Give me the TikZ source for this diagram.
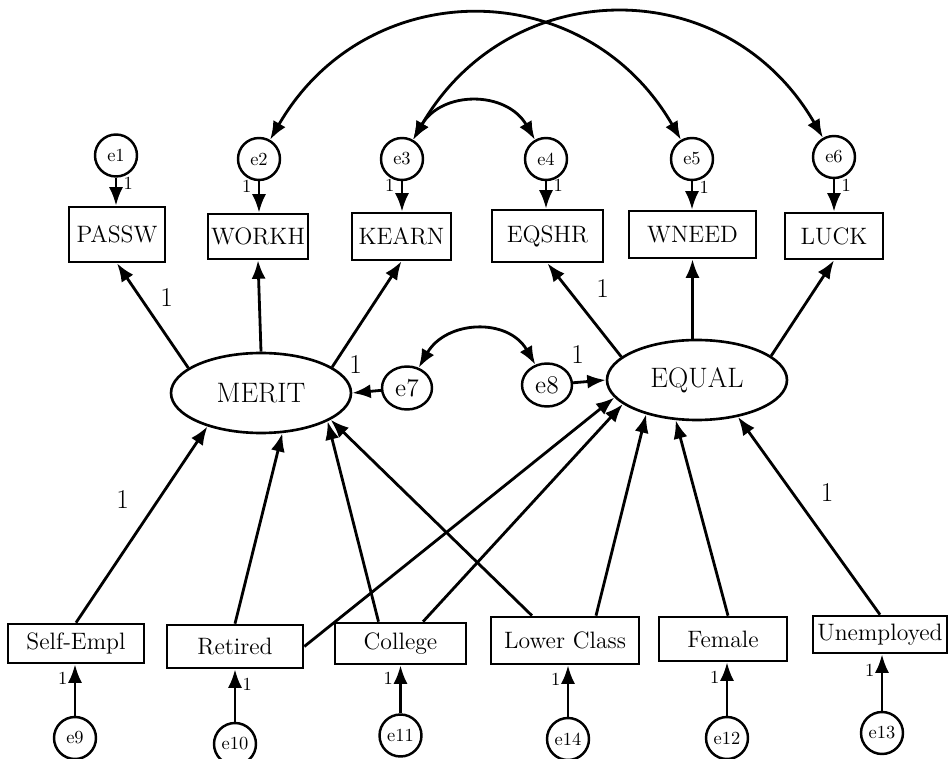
\documentclass[tikz,border=0pt]{standalone}
\usetikzlibrary{arrows.meta,shapes.geometric,calc}
\begin{document}
\begin{tikzpicture}[x=0.02cm, y=-0.02cm]
  \tikzstyle{box}=[draw, line width=1.5pt, inner sep=1.5pt, font=\fontsize{13.5}{16}\selectfont]
  \tikzstyle{latent}=[draw, ellipse, line width=1.5pt, minimum width=3.6cm,
                      minimum height=1.6cm, font=\fontsize{16}{19}\selectfont]
  \tikzstyle{err}=[draw, circle, line width=1.4pt, inner sep=0pt, minimum size=0.84cm,
                   font=\fontsize{10.5}{12}\selectfont]
  \tikzstyle{disturb}=[draw, ellipse, line width=1.4pt, inner sep=0pt, minimum width=1cm,
                       minimum height=0.86cm, font=\fontsize{14.5}{16}\selectfont]
  \tikzstyle{arrow}=[line width=1.6pt, -{Latex[length=10.5pt, width=8pt]}]
  \tikzstyle{covar}=[line width=1.6pt, {Latex[length=10.5pt, width=8pt]}-{Latex[length=10.5pt, width=8pt]}]
  \tikzstyle{one}=[font=\fontsize{15.5}{18}\selectfont, inner sep=2pt]
  \tikzstyle{small}=[font=\fontsize{10.5}{12}\selectfont, inner sep=1.5pt]
  \useasboundingbox (0,0) rectangle (949,759);

  % latent factors and their disturbances
  \node[latent] (merit) at (261, 393) {MERIT};
  \node[latent] (equal) at (697, 380) {EQUAL};
  \node[disturb] (e7) at (407, 388) {e7};
  \node[disturb] (e8) at (547, 385) {e8};

  % indicators
  \node[box, minimum width=1.92cm, minimum height=1.10cm] (passw) at (117, 234.5) {PASSW};
  \node[box, minimum width=2.00cm, minimum height=0.90cm] (workh) at (258, 236.5) {WORKH};
  \node[box, minimum width=1.98cm, minimum height=0.94cm] (kearn) at (401.5, 236.5) {KEARN};
  \node[box, minimum width=2.22cm, minimum height=1.04cm] (eqshr) at (547.5, 236) {EQSHR};
  \node[box, minimum width=2.54cm, minimum height=0.94cm] (wneed) at (692.5, 234.5) {WNEED};
  \node[box, minimum width=1.96cm, minimum height=0.92cm] (luck)  at (834, 236) {LUCK};

  \node[err] (e1) at (116, 155.5) {e1};
  \node[err] (e2) at (259, 159) {e2};
  \node[err] (e3) at (402, 159) {e3};
  \node[err] (e4) at (546, 159) {e4};
  \node[err] (e5) at (692, 159) {e5};
  \node[err] (e6) at (834, 157) {e6};

  % background variables
  \node[box, minimum width=2.72cm, minimum height=0.78cm] (selfempl) at (76, 643.5) {Self-Empl};
  \node[box, minimum width=2.72cm, minimum height=0.86cm] (retired)  at (235, 646.5) {Retired};
  \node[box, minimum width=2.62cm, minimum height=0.82cm] (college)  at (400.5, 643.5) {College};
  \node[box, minimum width=2.96cm, minimum height=0.94cm] (lowclass) at (565, 640.5) {Lower Class};
  \node[box, minimum width=2.56cm, minimum height=0.88cm] (female)   at (723, 639) {Female};
  \node[box, minimum width=2.68cm, minimum height=0.74cm] (unemp)    at (880, 634.5) {Unemployed};

  \node[err] (e9)  at (75, 738) {e9};
  \node[err] (e10) at (235, 744) {e10};
  \node[err] (e11) at (400.5, 735.5) {e11};
  \node[err] (e14) at (568, 739) {e14};
  \node[err] (e12) at (727, 738) {e12};
  \node[err] (e13) at (882, 733) {e13};

  % measurement paths
  \draw[arrow] (merit.161) -- node[one, pos=0.67, right=0.3cm] {1} (passw.south);
  \draw[arrow] (merit.north) -- (workh.south);
  \draw[arrow] (merit.20) -- node[one, pos=0.02, right=0.22cm] {1} (kearn.south);
  \draw[arrow] (equal.163) -- node[one, pos=0.73, right=0.48cm] {1} (eqshr.south);
  \draw[arrow] (wneed.south |- equal.north) -- (wneed.south);
  \draw[arrow] (equal.18) -- (luck.south);

  \draw[arrow] (e1) -- node[small, pos=0.2, right=2pt] {1} (e1 |- passw.north);
  \draw[arrow] (e2) -- node[small, pos=0.15, left=2pt] {1} (e2 |- workh.north);
  \draw[arrow] (e3) -- node[small, pos=0.15, left=2pt] {1} (e3 |- kearn.north);
  \draw[arrow] (e4) -- node[small, pos=0.15, right=2pt] {1} (e4 |- eqshr.north);
  \draw[arrow] (e5) -- node[small, pos=0.2, right=2pt] {1} (e5 |- wneed.north);
  \draw[arrow] (e6) -- node[small, pos=0.2, right=2pt] {1} (e6 |- luck.north);

  % correlated errors
  \draw[covar] (e2) to[out=60, in=120, looseness=1.2] (e5);
  \draw[covar] (e3) to[out=60, in=120, looseness=1.2] (e6);
  \draw[covar] (e3) to[out=60, in=120, looseness=1.2] (e4);
  \draw[covar] (e7) to[out=60, in=120, looseness=1.2] (e8);

  \draw[arrow] (e7) -- (merit.east);
  \draw[arrow] (e8) -- node[one, pos=0.14, above=0.28cm] {1} (equal.west);

  % structural paths
  \draw[arrow] (selfempl.north) -- node[one, pos=0.63, left=0.5cm] {1} (merit.212);
  \draw[arrow] (retired.north) -- (merit.-62);
  \draw[arrow] ($(college.north)+(-22,0)$) -- (merit.-23);
  \draw[arrow] ($(lowclass.north)+(-33,0)$) -- (merit.-21);
  \draw[arrow] (retired.east) -- (equal.192);
  \draw[arrow] ($(college.north)+(22.5,0)$) -- (equal.198);
  \draw[arrow] ($(lowclass.north)+(31,0)$) -- (equal.214);
  \draw[arrow] ($(female.north)+(5,0)$) -- (equal.242);
  \draw[arrow] (unemp.north) -- node[one, pos=0.62, right=0.48cm] {1} (equal.-42);

  \draw[arrow] (e9) -- node[small, pos=0.72, left=2pt] {1} (e9 |- selfempl.south);
  \draw[arrow] (e10) -- node[small, pos=0.72, right=2pt] {1} (e10 |- retired.south);
  \draw[arrow] (e11) -- node[small, pos=0.72, left=2pt] {1} (e11 |- college.south);
  \draw[arrow] (e14) -- node[small, pos=0.72, left=2pt] {1} (e14 |- lowclass.south);
  \draw[arrow] (e12) -- node[small, pos=0.72, left=2pt] {1} (e12 |- female.south);
  \draw[arrow] (e13) -- node[small, pos=0.72, left=2pt] {1} (e13 |- unemp.south);
\end{tikzpicture}
\end{document}
